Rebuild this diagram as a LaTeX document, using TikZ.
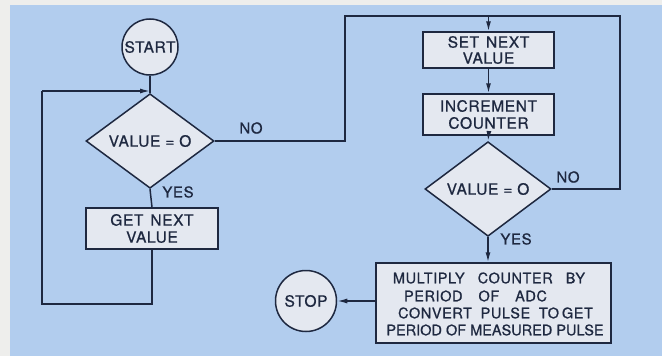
\documentclass[tikz,border=0pt]{standalone}
\usepackage{fontspec}
\setmainfont{TeX Gyre Heros}[LetterSpace=4,FakeBold=0.8]
\usetikzlibrary{shapes.geometric,arrows.meta}
\definecolor{bgblue}{RGB}{178,205,238}
\definecolor{margin}{RGB}{238,238,236}
\definecolor{ink}{RGB}{30,40,64}
\definecolor{boxfill}{RGB}{228,232,240}
\begin{document}
\begin{tikzpicture}[x=1pt,y=-1pt,
  every node/.style={font=\fontsize{15.5}{16}\selectfont, text=ink},
  line/.style={draw=ink, line width=1.5pt},
  arr/.style={line, -{Latex[length=10pt,width=5pt]}},
  procbox/.style={line, fill=boxfill, rectangle, inner sep=0pt, align=center},
  term/.style={line, fill=boxfill, circle, inner sep=0pt},
  decide/.style={line, fill=boxfill, diamond, inner sep=0pt},
  lbl/.style={inner sep=0pt, font=\fontsize{15}{16}\selectfont},
  multline/.style={inner sep=0pt, font=\fontsize{14.5}{16}\selectfont}]
\useasboundingbox (0,0) rectangle (662,356);
\fill[margin] (0,0) rectangle (662,356);
\fill[bgblue] (10,5) rectangle (662,356);

\node[term, minimum size=56pt] (start) at (150,47) {START};
\node[decide, minimum width=128pt, minimum height=74pt] (d1) at (150,141) {VALUE = O};
\node[procbox, minimum width=132pt, minimum height=41pt] (getnext) at (152,228.5) {GET\hspace{0.45em}NEXT\\[1pt]VALUE};
\node[procbox, minimum width=131pt, minimum height=36pt] (setnext) at (488.5,50) {SET\hspace{0.45em}NEXT\\VALUE};
\node[procbox, minimum width=131pt, minimum height=41pt] (incr) at (488.5,114.5) {INCREMENT\\[1pt]COUNTER};
\node[decide, minimum width=126pt, minimum height=80pt] (d2) at (488,189) {VALUE = O};
\node[procbox, minimum width=235pt, minimum height=80pt] (mult) at (493.5,303) {};
\node[multline] (m1) at (489,278) {MULTIPLY\hspace{0.9em}COUNTER\hspace{0.9em}BY};
\node[multline] (m2) at (475.5,296) {PERIOD\hspace{1.1em}OF\hspace{1.1em}ADC};
\node[multline] (m3) at (495.5,313) {CONVERT\hspace{0.6em}PULSE\hspace{0.6em}TO\hspace{0.2em}GET};
\node[multline, font=\fontsize{14.5}{16}\selectfont\addfontfeature{LetterSpace=0}] (m4) at (495,330) {PERIOD OF MEASURED PULSE};
\node[term, minimum size=61pt] (stop) at (306,301) {STOP};

\node[lbl] (no1) at (251,128) {NO};
\node[lbl] (yes1) at (178,192) {YES};
\node[lbl] (no2) at (568,177) {NO};
\node[lbl] (yes2) at (516,239) {YES};

\coordinate (c1) at (345,16);
\coordinate (c2) at (620,16);
\coordinate (j1) at (150,91);
\coordinate (l1) at (42,91);
\coordinate (l2) at (42,304);

\draw[line] (start) -- (d1);
\draw[line] (d1.east) -| (c1) -- (c2) |- (d2.east);
\draw[arr] (setnext.north |- c1) -- (setnext.north);
\draw[arr] (setnext) -- (incr);
\draw[arr] (incr.south) -- (d2.north);
\draw[arr] (d2.south) -- (d2.south |- mult.north);
\draw[arr] (mult.west |- stop) -- (stop.east);
\draw[line] (d1.south) -- (getnext.north);
\draw[line] (getnext.south) |- (l2) -- (l1);
\draw[arr] (l1) -- (j1);
\end{tikzpicture}
\end{document}
